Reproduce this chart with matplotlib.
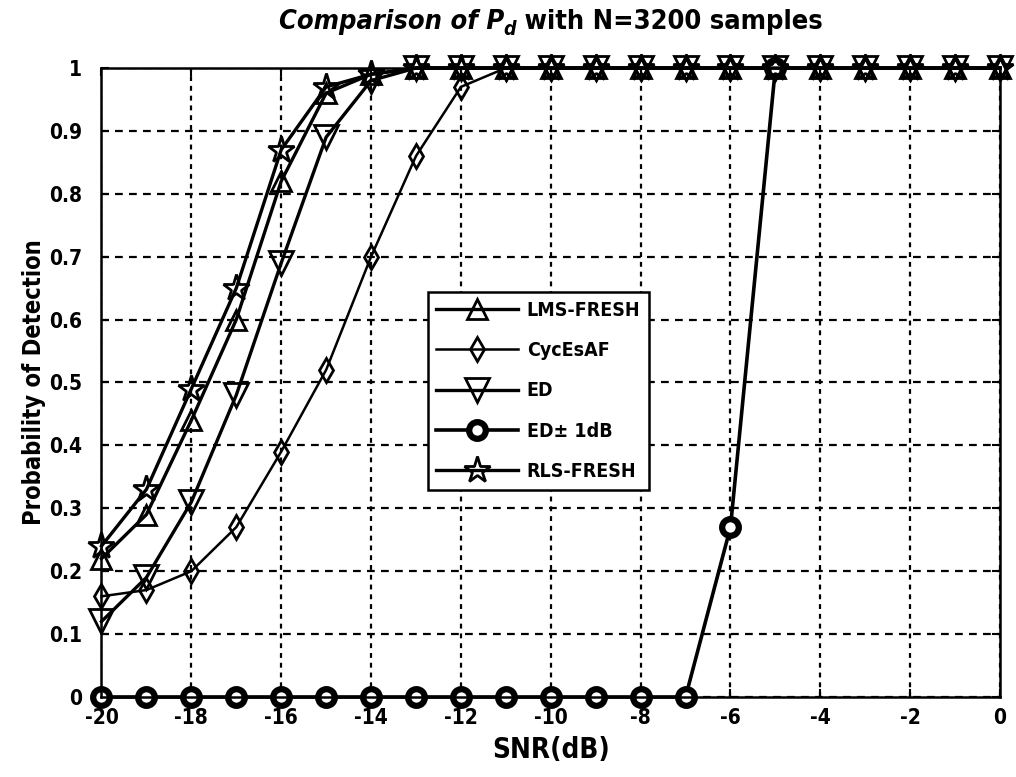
import matplotlib
matplotlib.use('Agg')
import matplotlib.pyplot as plt
import numpy as np

# SNR sweep (dB) and detection probabilities per detector
snr = np.arange(-20, 1)
lms_fresh = [0.22, 0.29, 0.44, 0.60, 0.82, 0.96, 0.99, 1.0, 1.0, 1.0, 1.0,
             1.0, 1.0, 1.0, 1.0, 1.0, 1.0, 1.0, 1.0, 1.0, 1.0]
cycesaf = [0.16, 0.17, 0.20, 0.27, 0.39, 0.52, 0.70, 0.86, 0.97, 1.0, 1.0,
           1.0, 1.0, 1.0, 1.0, 1.0, 1.0, 1.0, 1.0, 1.0, 1.0]
ed = [0.12, 0.19, 0.31, 0.48, 0.69, 0.89, 0.98, 1.0, 1.0, 1.0, 1.0,
      1.0, 1.0, 1.0, 1.0, 1.0, 1.0, 1.0, 1.0, 1.0, 1.0]
snr_ed1 = np.arange(-20, -4)
ed_1db = [0, 0, 0, 0, 0, 0, 0, 0, 0, 0, 0, 0, 0, 0, 0.27, 1.0]
rls_fresh = [0.24, 0.33, 0.49, 0.65, 0.87, 0.97, 0.99, 1.0, 1.0, 1.0, 1.0,
             1.0, 1.0, 1.0, 1.0, 1.0, 1.0, 1.0, 1.0, 1.0, 1.0]

xticks = np.arange(-20, 1, 2)
yticks = np.arange(0, 1.01, 0.1)
ytick_labels = ['0', '0.1', '0.2', '0.3', '0.4', '0.5', '0.6', '0.7', '0.8', '0.9', '1']

plt.rcParams['font.family'] = ['Liberation Sans Narrow', 'DejaVu Sans']
plt.rcParams['font.stretch'] = 'condensed'
plt.rcParams['font.weight'] = 'bold'
plt.rcParams['axes.labelweight'] = 'bold'
plt.rcParams['axes.unicode_minus'] = False

fig = plt.figure(figsize=(10.16, 7.77), dpi=100)
ax = fig.add_axes([0.0999, 0.103, 0.8844, 0.8095])

common = dict(color='black', clip_on=False, markerfacecolor='none',
              markeredgecolor='black', markeredgewidth=2.0)
ax.plot(snr, lms_fresh, marker='^', markersize=15, lw=2.4, label='LMS-FRESH', **common)
ax.plot(snr, cycesaf, marker='d', markersize=12, lw=1.8, label='CycEsAF', **common)
ax.plot(snr, ed, marker='v', markersize=17, lw=2.4, label='ED', **common)
ax.plot(snr_ed1, ed_1db, marker='o', markersize=12, lw=2.6, label='ED\u00b1 1dB',
        color='black', clip_on=False, markerfacecolor='white',
        markeredgecolor='black', markeredgewidth=4.5)
ax.plot(snr, rls_fresh, marker='*', markersize=20, lw=2.4, label='RLS-FRESH', **common)

ax.set_xlim(-20, 0)
ax.set_ylim(0, 1)
ax.set_xticks(xticks)
ax.set_yticks(yticks)
ax.set_yticklabels(ytick_labels)
ax.tick_params(direction='in', top=True, right=True, length=6, width=1.5,
               labelsize=15)
ax.tick_params(axis='x', pad=8)
ax.tick_params(axis='y', pad=14)
for s in ax.spines.values():
    s.set_linewidth(1.8)

ax.xaxis.grid(True, color='black', lw=1.6, linestyle=(0, (2.2, 2.2)))
ax.yaxis.grid(True, color='black', lw=1.6, linestyle=(0, (3.5, 2.8)))
ax.set_axisbelow(True)

ax.set_xlabel('SNR(dB)', fontsize=20, labelpad=6)
ax.set_ylabel('Probability of Detection', fontsize=17, labelpad=2)

leg = ax.legend(loc='upper left', bbox_to_anchor=(0.363, 0.644), fontsize=14,
                handlelength=4.2, handletextpad=0.45, labelspacing=1.1,
                borderpad=0.45, borderaxespad=0, fancybox=False,
                framealpha=1, edgecolor='black')
leg.get_frame().set_linewidth(1.8)

# title: italic "Comparison of P", subscript d, upright remainder
fig.canvas.draw()
r = fig.canvas.get_renderer()
tsize = 19.5
parts = [('Comparison of P', 'italic', tsize, 0),
         ('d', 'italic', 14, -6),
         (' with N=3200 samples', 'normal', tsize, 0)]
texts = [fig.text(0, 0, s, fontstyle=st, fontsize=fs, weight='bold')
         for s, st, fs, dy in parts]
widths = [t.get_window_extent(r).width for t in texts]
axbb = ax.get_window_extent(r)
x = (axbb.x0 + axbb.x1) / 2 - sum(widths) / 2
ybase = 777 - 29
for t, w, (s, st, fs, dy) in zip(texts, widths, parts):
    t.set_position((x / 1016, (ybase + dy) / 777))
    x += w

fig.savefig('out.png', dpi=100)
